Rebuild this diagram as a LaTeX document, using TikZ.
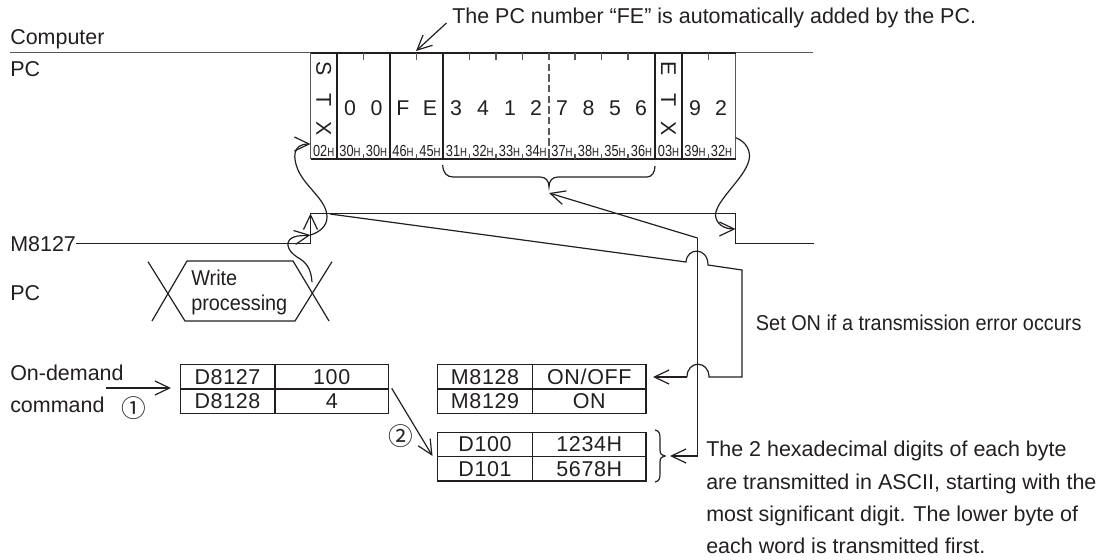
\documentclass[tikz,border=0pt]{standalone}
\usepackage{fontspec}
\setmainfont{Liberation Sans}
\newfontfamily\cjkfam{Noto Sans CJK JP}
\usetikzlibrary{arrows.meta}
\definecolor{ink}{HTML}{231F20}
\newcommand{\mainsize}{\fontsize{16.1pt}{24pt}\selectfont}
\newcommand{\digitsize}{\fontsize{16pt}{18pt}\selectfont}
\newcommand{\hexlab}[1]{\scalebox{0.8}[1]{\fontsize{12pt}{14pt}\selectfont #1\fontsize{9pt}{10pt}\selectfont H}}
\newcommand{\narrowtext}[1]{\scalebox{0.925}[1]{#1}}
\tikzset{
  wire/.style={draw=ink,line width=0.9pt},
  thinwire/.style={draw=ink!75,line width=0.8pt},
  heavy/.style={draw=ink,line width=1.4pt},
  tipwire/.style={wire,-{Straight Barb[length=11pt,width=10.5pt,line width=0.9pt]}},
  lbl/.style={anchor=base west,inner sep=0pt,text=ink,font=\mainsize},
  dig/.style={anchor=base,inner sep=0pt,text=ink,font=\digitsize},
  rotl/.style={anchor=center,inner sep=0pt,text=ink,font=\digitsize,rotate=-90},
  hexl/.style={anchor=base,inner sep=0pt,text=ink},
  cell/.style={draw=ink,line width=0.95pt,inner sep=0pt,anchor=north west,text=ink,
    font=\mainsize\addfontfeature{LetterSpace=3}},
  circ/.style={inner sep=0pt,text=ink,font=\cjkfam\fontsize{18.5pt}{20pt}\selectfont},
}
\begin{document}
\begin{tikzpicture}[x=0.75pt,y=-0.75pt]
\useasboundingbox (0,0) rectangle (1114,560);
% base lines
\coordinate (topL) at (10,52.8);
\coordinate (topR) at (813,52.8);
\draw[thinwire] (topL) -- (topR);
% frame
\draw[thinwire] (310.5,53) -- (310.5,159);
\draw[thinwire] (735.5,53) -- (735.5,159);
\draw[wire] (310.5,53) -- (735.5,53);
\draw[wire] (310.5,159) -- (735.5,159);
\foreach \x in {337,390,443,655,682}{\draw[heavy] (\x,53) -- (\x,159);}
\foreach \x in {363.5,416.5,469.5,496,522.5,575,601.5,628,708.5}{
  \draw[thinwire] (\x,53) -- (\x,60);
  \draw[thinwire] (\x,154) -- (\x,159);}
\draw[thinwire,dash pattern=on 5.5pt off 2.5pt] (549,53) -- (549,154);
\draw[thinwire] (549,154) -- (549,159);
% letters
\node[rotl] (s1) at (323.7,69) {S};
\node[rotl] (s2) at (323.7,100) {T};
\node[rotl] (s3) at (323.7,129) {X};
\node[rotl] (e1) at (668.5,69) {E};
\node[rotl] (e2) at (668.5,100) {T};
\node[rotl] (e3) at (668.5,129) {X};
\foreach \x/\t [count=\i] in {350/0,376.5/0,403/F,430/E,456/3,483/4,510/1,536/2,562/7,588.5/8,615/5,641/6,695/9,721/2}{
  \node[dig] (d\i) at (\x,115.5) {\t};}
\foreach \x/\t [count=\i] in {323.7/02,350/30,376.5/30,403/46,430/45,456.5/31,483/32,509.5/33,536/34,562/37,588.5/38,615/35,641.5/36,668.5/03,695/39,721.5/32}{
  \node[hexl] (h\i) at (\x,156.5) {\hexlab{\t}};}
% top note
\node[lbl] (note) at (452,24) {The PC number “FE” is automatically added by the PC.};
\coordinate (noteS) at (446.5,23);
\coordinate (noteT) at (416,51);
\draw[tipwire] (noteS) -- (noteT);
% labels
\node[lbl] (comp) at (10,45) {Computer};
\node[lbl] (pc1) at (10,76.7) {PC};
\node[lbl] (m27) at (10,251) {M8127};
\node[lbl] (pc2) at (10,300) {PC};
\node[lbl] (write1) at (191,285) {\narrowtext{Write}};
\node[lbl] (write2) at (191,310) {\narrowtext{processing}};
\node[lbl] (ond) at (10,380) {On-demand};
\node[lbl] (cmd) at (10,412) {command};
\node[circ] (c1) at (134,408) {①};
\node[circ] (c2) at (400.7,436) {②};
\node[lbl] (seton) at (755.7,330) {\narrowtext{Set ON if a transmission error occurs}};
\node[lbl] (p1) at (706,456.5) {The 2 hexadecimal digits of each byte};
\node[lbl] (p2) at (706,489) {are transmitted in ASCII, starting with the};
\node[lbl] (p3) at (706,521) {most significant digit. The lower byte of};
\node[lbl] (p4) at (706,553) {each word is transmitted first.};
% M8127 waveform
\coordinate (mS) at (76,243.3);
\coordinate (mR) at (310.5,243.3);
\coordinate (mH) at (310.5,213.5);
\coordinate (mF) at (735.5,213.5);
\coordinate (mL) at (735.5,243.3);
\coordinate (mE) at (814,243.3);
\draw[wire] (mS) -- (mR) -- (mH) -- (mF) -- (mL) -- (mE);
% write processing
\draw[wire] (148,261.7) -- (185,321) -- (295,321) -- (332,261.7);
\draw[wire] (152,321) -- (187,261) -- (293,261) -- (329,321);
% curved arrows
\draw[tipwire] (mR) -- (mH);
\draw[tipwire] (312,282) .. controls (311,268) and (306,262) .. (297,257)
  .. controls (286,250) and (285,240) .. (294,237) .. controls (299,235) and (304,236) .. (310.5,235);
\coordinate (stxT) at (310.5,144);
\draw[tipwire] (310.5,235) .. controls (320,232) and (327,226) .. (327,217)
  .. controls (327,200) and (306,188) .. (298,170) .. controls (293,158) and (292,144) .. (stxT);
\coordinate (etxS) at (735.7,137.7);
\coordinate (etxT) at (735.5,229);
\draw[tipwire] (etxS) .. controls (747,142) and (751,152) .. (749,160)
  .. controls (745,178) and (716,200) .. (715.5,215) .. controls (716,224) and (724,229) .. (etxT);
% long lines
\coordinate (bT) at (549,193);
\coordinate (brT) at (670,456);
\coordinate (vT) at (697.5,238);
\coordinate (vB) at (697.5,456);
\draw[tipwire] (vT) -- (bT);
\draw[tipwire] (vT) -- (vB) -- (brT);
\coordinate (onT) at (653,377);
\draw[wire] (330,214) -- (686,262) .. controls (687,247) and (708,247) .. (708,265) -- (742,270) -- (742,377) -- (709,377)
  .. controls (709,360) and (687,360) .. (687,377);
\draw[tipwire] (687,377) -- (onT);
% braces
\draw[wire] (442.7,165) .. controls (443,173) and (447,177) .. (453,177) -- (540,177)
  .. controls (546,177) and (549,181) .. (549,187) .. controls (549,181) and (552,177) .. (558,177) -- (647,177)
  .. controls (652,177) and (655,172) .. (655,166);
\draw[wire] (655,430) .. controls (659,431) and (660,433) .. (660,438) -- (660,450)
  .. controls (660,454) and (662,456) .. (665,456) .. controls (662,456) and (660,458) .. (660,462) -- (660,474)
  .. controls (660,479) and (659,481) .. (655,482);
% tables
\node[cell,minimum width=71.1pt,minimum height=18.3pt] (t11) at (179.5,364) {D8127};
\node[cell,minimum width=85.2pt,minimum height=18.3pt] (t12) at (274.3,364) {100};
\node[cell,minimum width=71.1pt,minimum height=18.3pt] (t21) at (179.5,388.4) {D8128};
\node[cell,minimum width=85.2pt,minimum height=18.3pt] (t22) at (274.3,388.4) {4};
\node[cell,minimum width=71.5pt,minimum height=18.3pt] (u11) at (436.7,364) {M8128};
\node[cell,minimum width=85pt,minimum height=18.3pt] (u12) at (532,364) {ON/OFF};
\node[cell,minimum width=71.5pt,minimum height=18.3pt] (u21) at (436.7,388.4) {M8129};
\node[cell,minimum width=85pt,minimum height=18.3pt] (u22) at (532,388.4) {ON};
\node[cell,minimum width=71.5pt,minimum height=18.3pt] (v11) at (436.7,431.7) {D100};
\node[cell,minimum width=85pt,minimum height=18.3pt] (v12) at (532,431.7) {1234H};
\node[cell,minimum width=71.5pt,minimum height=18.3pt] (v21) at (436.7,456) {D101};
\node[cell,minimum width=85pt,minimum height=18.3pt] (v22) at (532,456) {5678H};
% table arrows
\coordinate (cmdS) at (106,388);
\coordinate (cmdT) at (171,388);
\draw[tipwire] (cmdS) -- (cmdT);
\coordinate (a2S) at (391.7,388.3);
\coordinate (a2T) at (432.5,456);
\draw[tipwire] (a2S) -- (a2T);
\end{tikzpicture}
\end{document}
